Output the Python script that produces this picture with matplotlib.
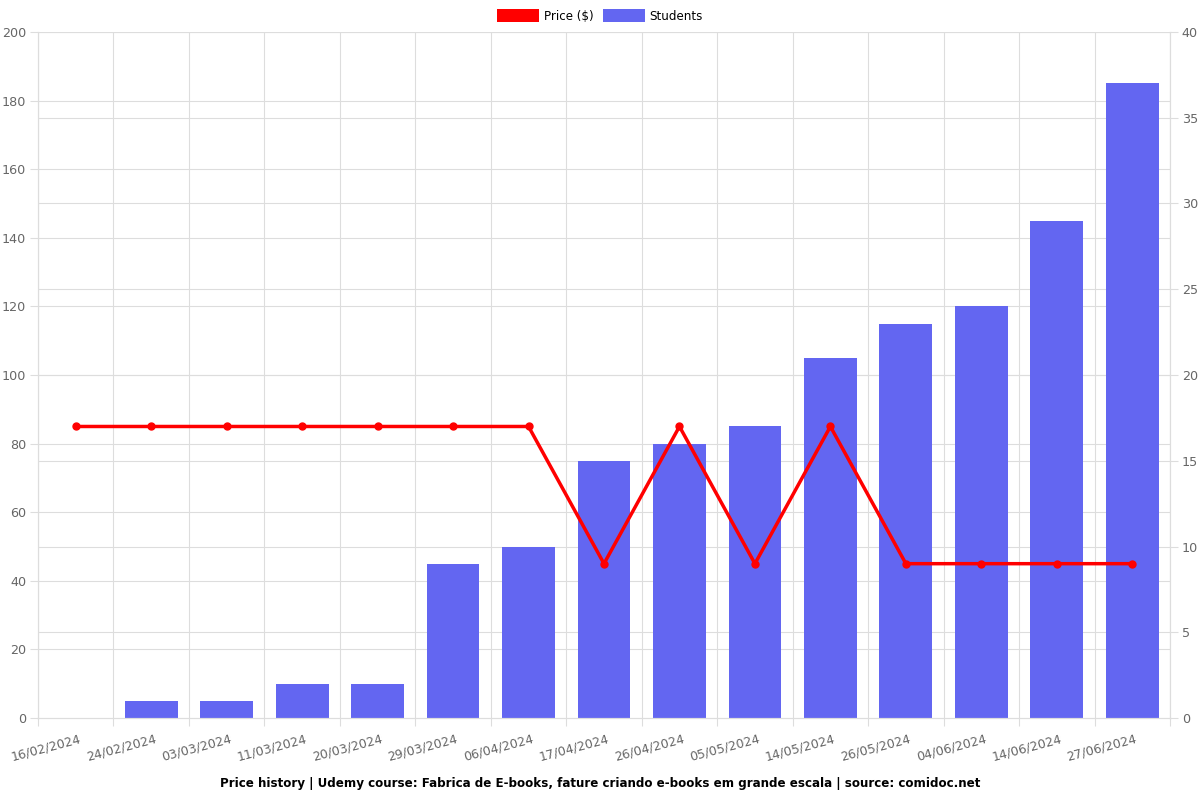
import matplotlib
matplotlib.use("Agg")
import matplotlib.pyplot as plt
import numpy as np
from matplotlib.patches import Patch

dates = ["16/02/2024", "24/02/2024", "03/03/2024", "11/03/2024", "20/03/2024",
         "29/03/2024", "06/04/2024", "17/04/2024", "26/04/2024", "05/05/2024",
         "14/05/2024", "26/05/2024", "04/06/2024", "14/06/2024", "27/06/2024"]
price = [84.99, 84.99, 84.99, 84.99, 84.99, 84.99, 84.99, 44.99, 84.99, 44.99,
         84.99, 44.99, 44.99, 44.99, 44.99]
students = [0, 1, 1, 2, 2, 9, 10, 15, 16, 17, 21, 23, 24, 29, 37]

grid_c = "#dddddd"
text_c = "#666666"
bar_c = "#6366f1"
fs = 8.6

fig = plt.figure(figsize=(12, 8), dpi=100)
ax = fig.add_axes([38 / 1200, 1 - 718 / 800, 1132 / 1200, 686 / 800])
ax2 = ax.twinx()

x = np.arange(len(dates))

# students bars on the right axis, price line on the left axis
ax2.bar(x, students, width=0.7, color=bar_c, linewidth=0, zorder=2)
ax.plot(x, price, color="#ff0000", lw=2.5, marker="o", ms=5, zorder=5)

ax.set_zorder(ax2.get_zorder() + 1)
ax.patch.set_visible(False)

ax.set_xlim(-0.5, len(dates) - 0.5)
ax.set_ylim(0, 200)
ax2.set_ylim(0, 40)
ax.set_yticks(np.arange(0, 201, 20))
ax2.set_yticks(np.arange(0, 41, 5))

# vertical grid at category boundaries
for b in np.arange(-0.5, len(dates), 1):
    ax2.axvline(b, color=grid_c, lw=0.8, zorder=0)
ax.set_xticks(np.arange(-0.5, len(dates), 1))
ax.set_xticklabels([])
ax.tick_params(axis="x", length=6, color=grid_c)
for i, d in enumerate(dates):
    ax.annotate(d, xy=(i, 0), xycoords=("data", "axes fraction"),
                xytext=(2, -10), textcoords="offset points",
                ha="right", va="top", rotation=15, rotation_mode="anchor",
                fontsize=fs + 0.4, color=text_c)

for yv in np.arange(20, 201, 20):
    ax2.axhline(yv / 5, color=grid_c, lw=0.8, zorder=0)
for yv in np.arange(5, 41, 5):
    ax2.axhline(yv, color=grid_c, lw=0.8, zorder=0)

ax.tick_params(axis="y", length=6, pad=2.5, color=grid_c, labelcolor=text_c, labelsize=fs + 0.6)
ax2.tick_params(axis="y", length=6, pad=2.5, color=grid_c, labelcolor=text_c, labelsize=fs + 0.6)
for a in (ax, ax2):
    for s in a.spines.values():
        s.set_color(grid_c)
    a.spines["top"].set_visible(False)

handles = [Patch(facecolor="#ff0000", label="Price ($)"),
           Patch(facecolor=bar_c, label="Students")]
fig.legend(handles=handles, loc="center", bbox_to_anchor=(0.5, 1 - 16 / 800),
           ncol=2, frameon=False, fontsize=fs, handlelength=3.5, handleheight=1.2,
           columnspacing=0.8, handletextpad=0.4)

fig.text(0.5, 1 - 783 / 800,
         "Price history | Udemy course: Fabrica de E-books, fature criando e-books em grande escala | source: comidoc.net",
         ha="center", va="center", fontsize=fs, fontweight="bold")

fig.savefig("out.png", dpi=100)
